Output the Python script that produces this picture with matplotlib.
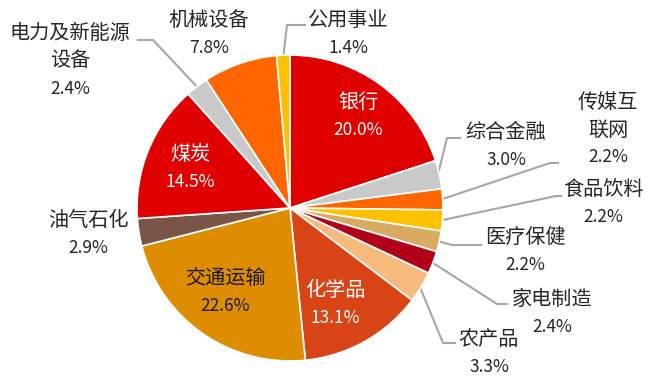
import numpy as np
import matplotlib
matplotlib.use('agg')
import matplotlib.pyplot as plt

plt.rcParams['font.family'] = ['Noto Sans CJK SC', 'DejaVu Sans']

sectors = ['银行', '综合金融', '传媒互\n联网', '食品饮料', '医疗保健', '家电制造', '农产品',
           '化学品', '交通运输', '油气石化', '煤炭', '电力及新能源\n设备', '机械设备', '公用事业']
shares = [20.0, 3.0, 2.2, 2.2, 2.2, 2.4, 3.3, 13.1, 22.6, 2.9, 14.5, 2.4, 7.8, 1.4]
colors = ['#E00000', '#C9C9C9', '#FF6600', '#FFC000', '#D9AB62', '#B0001A', '#F8BA7C',
          '#D84416', '#DE8C00', '#7A5547', '#E00000', '#C9C9C9', '#FF6600', '#FFC000']

# pie centre / radius in pixels of the 648x384 picture
CX, CY, R = 290, 208, 153
W, H = 648, 384
LINE = 27.5  # px between label lines


def px(x, y):
    return (x - CX) / R, (CY - y) / R


fig = plt.figure(figsize=(6.48, 3.84), dpi=100)
ax = fig.add_axes([(CX - R) / W, (H - CY - R) / H, 2 * R / W, 2 * R / H])
wedges, _ = ax.pie(shares, colors=colors, startangle=90, counterclock=False,
                   wedgeprops=dict(edgecolor='white', linewidth=1.2))
ax.set_xlim(-1, 1)
ax.set_ylim(-1, 1)


def label(i, x, y, color):
    lines = sectors[i].split('\n') + ['%.1f%%' % shares[i]]
    n = len(lines)
    for k, s in enumerate(lines):
        tx, ty = px(x, y + (k - (n - 1) / 2) * LINE)
        size = 12.5 if k == n - 1 else 14.5
        ax.text(tx, ty, s, ha='center', va='center', color=color,
                fontsize=size, clip_on=False)


# labels inside the pie: index -> (x px, y px, colour)
inner = {0: (358, 116, 'white'), 10: (190, 168, 'white'),
         8: (225, 292, '#1a1a1a'), 7: (335, 304, 'white')}

# labels outside: index -> (text centre px, leader waypoints px)
outer = {1: ((506, 146), [(447, 138), (460, 138)]),
         2: ((608, 130), [(550, 163), (558, 163)]),
         3: ((603, 203), [(556, 196), (561, 196)]),
         4: ((525, 251), [(452, 245), (481, 245)]),
         5: ((552, 313), [(497, 304), (507, 304)]),
         6: ((489, 353), [(443, 343), (455, 343)]),
         9: ((88, 234), []),
         11: ((70, 61), [(153, 40), (138, 40)]),
         12: ((209, 34), []),
         13: ((348, 34), [(287, 25), (305, 25)])}

for i, (x, y, c) in inner.items():
    label(i, x, y, c)

for i, (pos, pts) in outer.items():
    label(i, pos[0], pos[1], '#262626')
    if pts:
        w = wedges[i]
        mid = np.deg2rad((w.theta1 + w.theta2) / 2)
        xs = [np.cos(mid) * 0.99] + [px(*p)[0] for p in pts]
        ys = [np.sin(mid) * 0.99] + [px(*p)[1] for p in pts]
        ax.plot(xs, ys, color='#A6A6A6', lw=1.5, clip_on=False, zorder=0)

fig.savefig('out.png', dpi=100)
